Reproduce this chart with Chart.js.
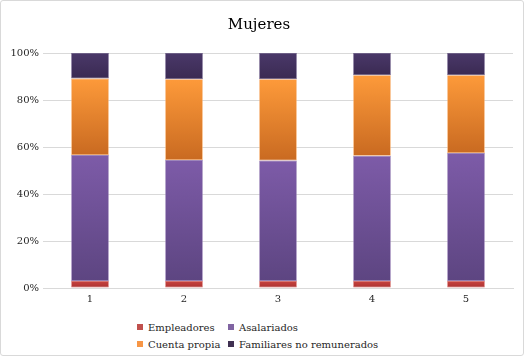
<!DOCTYPE html>
<html>
<head>
<meta charset="utf-8">
<script src="https://cdn.jsdelivr.net/npm/chart.js@4/dist/chart.umd.min.js"></script>
<style>
  html, body { margin: 0; padding: 0; background: #fff; }
  #frame {
    position: relative; width: 524px; height: 356px; box-sizing: border-box;
    border: 1px solid #d9d9d9; border-radius: 3px; overflow: hidden;
    font-family: "DejaVu Serif", serif;
  }
  #chartBox { position: absolute; left: 0; top: 0; width: 522px; height: 310px; }
  #legend {
    position: absolute; left: 136px; top: 320px;
    display: grid; grid-template-columns: 91px auto; row-gap: 4px;
    font-size: 10px; line-height: 13px; color: #262626;
  }
  #legend span.item { white-space: nowrap; }
  #legend i {
    display: inline-block; width: 6px; height: 6px; margin-right: 5px;
    vertical-align: 1px;
  }
</style>
</head>
<body>
<div id="frame">
  <div id="chartBox"><canvas id="chart"></canvas></div>
  <div id="legend"></div>
</div>
<script>
// Data (percent of women by occupational category)
const categories = ["1", "2", "3", "4", "5"];
const empleadores = [3.0, 3.0, 3.0, 3.0, 3.0];
const asalariados = [53.6, 51.5, 51.3, 53.3, 54.4];
const cuentaPropia = [32.6, 34.3, 34.5, 34.2, 33.1];
const familiares = [10.8, 11.2, 11.2, 9.5, 9.5];
const seriesNames = ["Empleadores", "Asalariados", "Cuenta propia", "Familiares no remunerados"];
const yTicks = [0, 20, 40, 60, 80, 100];

const FONT = "'DejaVu Serif', serif";

// [top colour, bottom colour, legend colour, edge colour]
const palette = [
  ["#c9433f", "#a93231", "#c0504d", "#d0605c"],
  ["#7d5ba8", "#5d4581", "#8064a2", "#8c72ae"],
  ["#fd9a3a", "#c96a21", "#f79646", "#f5a660"],
  ["#4a3869", "#3a2a52", "#403152", "#5a4878"],
];

const allSeries = [empleadores, asalariados, cuentaPropia, familiares];

/** Vertical gradient for one stacked segment */
function segmentFill(seriesIndex) {
  return (ctx) => {
    const chart = ctx.chart;
    const [top, bottom] = palette[seriesIndex];
    if (!chart.chartArea || ctx.type !== "data") return bottom;
    const i = ctx.dataIndex;
    let start = 0;
    for (let k = 0; k < seriesIndex; k++) start += allSeries[k][i];
    const end = start + allSeries[seriesIndex][i];
    const y = chart.scales.y;
    const g = chart.ctx.createLinearGradient(0, y.getPixelForValue(end), 0, y.getPixelForValue(start));
    g.addColorStop(0, top);
    g.addColorStop(1, bottom);
    return g;
  };
}

const datasets = allSeries.map((values, s) => ({
  label: seriesNames[s],
  data: values,
  backgroundColor: segmentFill(s),
  borderColor: palette[s][3],
  borderWidth: 0.75,
  borderSkipped: false,
  barPercentage: 0.4,
  categoryPercentage: 1,
}));

new Chart(document.getElementById("chart"), {
  type: "bar",
  data: { labels: categories, datasets: datasets },
  options: {
    responsive: true,
    maintainAspectRatio: false,
    animation: false,
    layout: { padding: { left: 4, right: 10, top: 0, bottom: 3 } },
    plugins: {
      legend: { display: false },
      tooltip: { enabled: false },
      title: {
        display: true,
        text: "Mujeres",
        color: "#000",
        font: { family: FONT, size: 15, weight: "normal", lineHeight: 1.2 },
        padding: { top: 15, bottom: 19 },
      },
    },
    scales: {
      x: {
        stacked: true,
        grid: { display: false, drawTicks: false },
        border: { display: true, color: "#d9d9d9" },
        ticks: { color: "#262626", font: { family: FONT, size: 10 }, padding: 5 },
        afterFit: (scale) => { scale.height = 20; },
      },
      y: {
        stacked: true,
        min: 0,
        max: 100,
        afterBuildTicks: (scale) => { scale.ticks = yTicks.map((v) => ({ value: v })); },
        grid: { color: "#d9d9d9", drawTicks: false },
        border: { display: false },
        ticks: {
          color: "#262626",
          font: { family: FONT, size: 10 },
          padding: 4,
          callback: (v) => v + "%",
        },
        afterFit: (scale) => { scale.width = 38; },
      },
    },
  },
});

// Legend in two columns, like the original
const legendBox = document.getElementById("legend");
seriesNames.forEach((name, s) => {
  const item = document.createElement("span");
  item.className = "item";
  item.innerHTML = `<i style="background:${palette[s][2]}"></i>${name}`;
  legendBox.appendChild(item);
});
</script>
</body>
</html>
